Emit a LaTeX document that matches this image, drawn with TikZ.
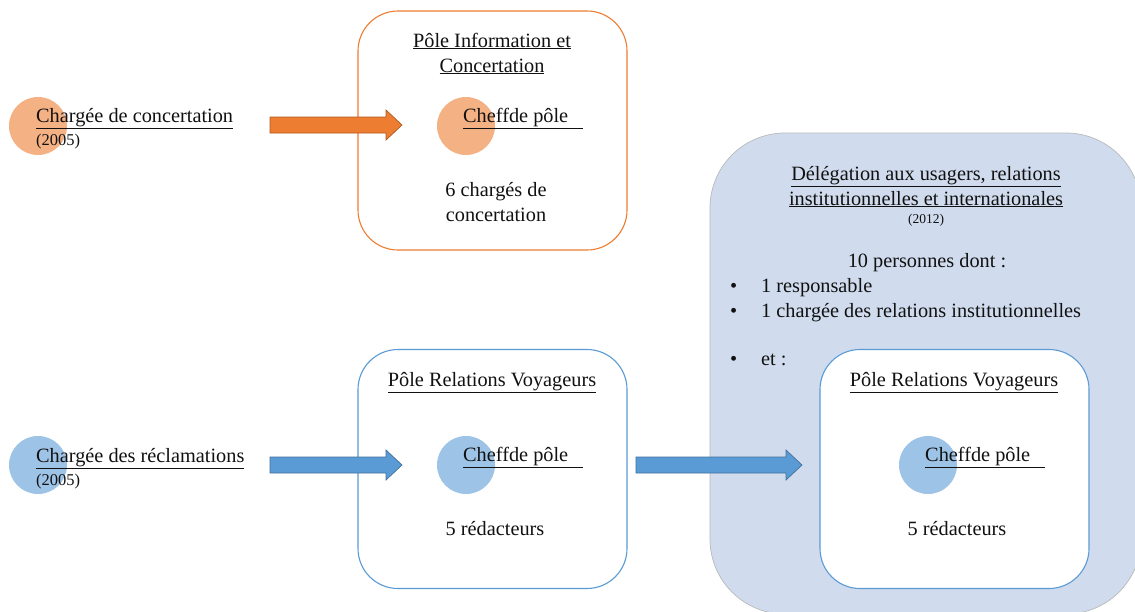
\documentclass[tikz,border=0pt]{standalone}
\usepackage{fontspec}
\setmainfont{Liberation Serif}
\usetikzlibrary{calc}
\definecolor{orline}{HTML}{ED7D31}
\definecolor{orfill}{HTML}{ED7D31}
\definecolor{ordark}{HTML}{B05A20}
\definecolor{orcirc}{HTML}{F4B183}
\definecolor{blline}{HTML}{5B9BD5}
\definecolor{blfill}{HTML}{5B9BD5}
\definecolor{bldark}{HTML}{41719C}
\definecolor{blcirc}{HTML}{9DC3E6}
\definecolor{blbig}{HTML}{D0DCEE}
\definecolor{txt}{HTML}{111111}
\newcommand\myblockarrow[3]{%
  \filldraw[#1] ($(#2)+(0,-8)$) -- ($(#3)+(-16,-8)$) -- ($(#3)+(-16,-15)$) -- (#3)
    -- ($(#3)+(-16,15)$) -- ($(#3)+(-16,8)$) -- ($(#2)+(0,8)$) -- cycle;}
\tikzset{
  lbl/.style={font=\fontsize{20.3}{25}\selectfont, inner sep=0pt, text=txt},
  yr/.style={font=\fontsize{16.5}{19}\selectfont, inner sep=0pt, text=txt},
  yrsmall/.style={font=\fontsize{13.5}{15}\selectfont, inner sep=0pt, text=txt},
  polebox/.style={draw, line width=1.1pt, fill=white, rounded corners=40pt,
    minimum width=269pt, minimum height=239pt, inner sep=0pt},
  dot/.style={circle, minimum size=58pt, inner sep=0pt},
  oarrow/.style={fill=orfill, draw=ordark, line width=0.7pt, line join=miter},
  barrow/.style={fill=blfill, draw=bldark, line width=0.7pt, line join=miter},
  bigbox/.style={draw=gray!55, line width=0.7pt, fill=blbig, rounded corners=75pt,
    minimum width=431pt, minimum height=481pt, inner sep=0pt},
}
\begin{document}
\begin{tikzpicture}[x=1pt,y=-1pt]
\useasboundingbox (0,0) rectangle (1135,611);
\fill[white] (0,0) rectangle (1135,611);

% big delegation box
\node[bigbox] (deleg) at (925.5,373.5) {};

% pole boxes
\node[polebox, draw=orline] (pic) at (492.5,130.5) {};
\node[polebox, draw=blline] (prv) at (492.5,469) {};
\node[polebox, draw=blline] (prv2) at (954.5,469) {};

% circles
\node[dot, fill=orcirc] (c1) at (38,126) {};
\node[dot, fill=blcirc] (c2) at (38,465) {};
\node[dot, fill=orcirc] (c3) at (466,126) {};
\node[dot, fill=blcirc] (c4) at (466,465) {};
\node[dot, fill=blcirc] (c5) at (928,465) {};

% left labels
\node[lbl, anchor=base west] (t1) at (36,122) {\underline{Chargée de concertation}};
\node[yr, anchor=base west] (t1y) at (36,145.5) {(2005)};
\node[lbl, anchor=base west] (t2) at (36,462) {\underline{Chargée des réclamations}};
\node[yr, anchor=base west] (t2y) at (36,485.5) {(2005)};

% pole information et concertation
\node[lbl, anchor=base] (pic1) at (492,47) {\underline{Pôle Information et}};
\node[lbl, anchor=base] (pic2) at (492,72) {\underline{Concertation}};
\node[lbl, anchor=base west] (pic3) at (463,122) {\underline{Cheffde pôle\hspace{15pt}}};
\node[lbl, anchor=base] (pic4) at (496,196) {6 chargés de};
\node[lbl, anchor=base] (pic5) at (496,221) {concertation};

% pole relations voyageurs (left)
\node[lbl, anchor=base] (prv1) at (492,386) {\underline{Pôle Relations Voyageurs}};
\node[lbl, anchor=base west] (prv3) at (463,461) {\underline{Cheffde pôle\hspace{15pt}}};
\node[lbl, anchor=base] (prv4) at (495,535) {5 rédacteurs};

% delegation texts
\node[lbl, anchor=base] (d1) at (926,180) {\underline{Délégation aux usagers, relations}};
\node[lbl, anchor=base] (d2) at (926,205) {\underline{institutionnelles et internationales}};
\node[yrsmall, anchor=base] (d3) at (926,223) {(2012)};
\node[lbl, anchor=base] (d4) at (927,267) {10 personnes dont :};
\node[lbl, anchor=base west] (b1) at (730,292) {•};
\node[lbl, anchor=base west] (d5) at (761,292) {1 responsable};
\node[lbl, anchor=base west] (b2) at (730,317) {•};
\node[lbl, anchor=base west] (d6) at (761,317) {1 chargée des relations institutionnelles};
\node[lbl, anchor=base west] (b3) at (730,365) {•};
\node[lbl, anchor=base west] (d7) at (761,365) {et :};

% pole relations voyageurs (right)
\node[lbl, anchor=base] (q1) at (954,386) {\underline{Pôle Relations Voyageurs}};
\node[lbl, anchor=base west] (q3) at (925,461) {\underline{Cheffde pôle\hspace{15pt}}};
\node[lbl, anchor=base] (q4) at (957,535) {5 rédacteurs};

% arrows
\coordinate (a1s) at (270,125);
\coordinate (a1e) at (402,125);
\coordinate (a2s) at (270,465);
\coordinate (a2e) at (402,465);
\coordinate (a3s) at (636,465);
\coordinate (a3e) at (802,465);
\myblockarrow{oarrow}{a1s}{a1e}
\myblockarrow{barrow}{a2s}{a2e}
\myblockarrow{barrow}{a3s}{a3e}
\end{tikzpicture}
\end{document}
